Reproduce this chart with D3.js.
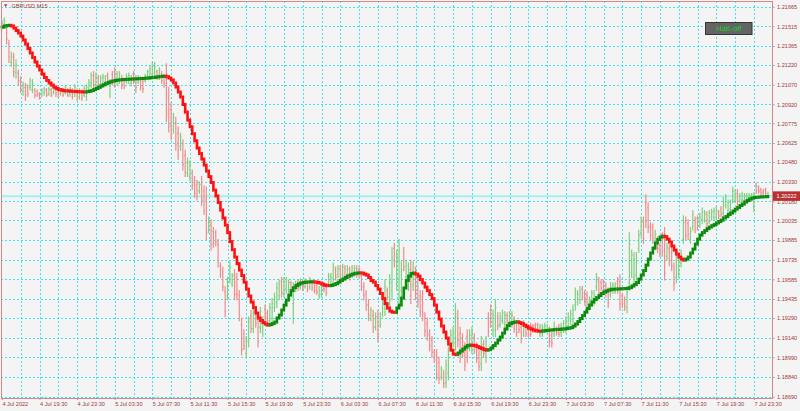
<!DOCTYPE html>
<html>
<head>
<meta charset="utf-8">
<script src="https://cdn.jsdelivr.net/npm/d3@7"></script>
<style>
  html, body { margin: 0; padding: 0; background: #f4f4f4; }
  svg { display: block; }
  text { font-family: "Liberation Sans", Arial, sans-serif; }
</style>
</head>
<body>
<svg id="chart" width="800" height="411"></svg>
<script>
/*global d3*/

// chart texts
var symbol = "GBPUSD,M15";
var buttonLabel = "HaK-off";

// price scale labels (right side)
var priceLabels = ["1.21665","1.21515","1.21365","1.21220","1.21070","1.20920","1.20775",
  "1.20625","1.20480","1.20330","1.20180","1.20035","1.19885","1.19735","1.19585",
  "1.19435","1.19290","1.19140","1.18990","1.18840","1.18690"];

// time labels, one every 16 bars (4 hours of M15)
var timeLabels = ["4 Jul 2022","4 Jul 19:30","4 Jul 23:30","5 Jul 03:30","5 Jul 07:30",
  "5 Jul 11:30","5 Jul 15:30","5 Jul 19:30","5 Jul 23:30","6 Jul 03:30","6 Jul 07:30",
  "6 Jul 11:30","6 Jul 15:30","6 Jul 19:30","6 Jul 23:30","7 Jul 03:30","7 Jul 07:30",
  "7 Jul 11:30","7 Jul 15:30","7 Jul 19:30","7 Jul 23:30"];
var barsPerLabel = 16;
var barsPerGrid = 8;

// OHLC of the M15 bars
var opens = [
1.2151,1.2152,1.2150,1.2138,1.2124,1.2128,1.2116,1.2116,1.2110,1.2102,
1.2105,1.2105,1.2105,1.2103,1.2103,1.2102,1.2100,1.2099,1.2101,1.2103,
1.2100,1.2103,1.2101,1.2104,1.2103,1.2100,1.2103,1.2101,1.2103,1.2100,
1.2103,1.2100,1.2102,1.2098,1.2101,1.2099,1.2098,1.2103,1.2108,1.2114,
1.2107,1.2112,1.2107,1.2108,1.2109,1.2114,1.2102,1.2115,1.2117,1.2110,
1.2111,1.2112,1.2110,1.2110,1.2110,1.2108,1.2115,1.2111,1.2109,1.2111,
1.2109,1.2110,1.2113,1.2114,1.2115,1.2116,1.2117,1.2113,1.2115,1.2113,
1.2112,1.2097,1.2088,1.2073,1.2078,1.2070,1.2060,1.2061,1.2053,1.2040,
1.2037,1.2040,1.2034,1.2031,1.2026,1.2031,1.2026,1.2020,1.1996,1.2000,
1.1995,1.1994,1.1985,1.1969,1.1965,1.1949,1.1946,1.1959,1.1955,1.1962,
1.1960,1.1946,1.1924,1.1917,1.1902,1.1911,1.1931,1.1921,1.1934,1.1928,
1.1922,1.1918,1.1936,1.1933,1.1927,1.1929,1.1937,1.1941,1.1946,1.1957,
1.1948,1.1951,1.1950,1.1956,1.1940,1.1951,1.1956,1.1953,1.1956,1.1953,
1.1955,1.1953,1.1956,1.1955,1.1954,1.1946,1.1947,1.1955,1.1953,1.1955,
1.1955,1.1959,1.1966,1.1962,1.1967,1.1962,1.1967,1.1962,1.1966,1.1962,
1.1963,1.1967,1.1966,1.1961,1.1953,1.1947,1.1939,1.1929,1.1931,1.1922,
1.1930,1.1924,1.1932,1.1936,1.1950,1.1940,1.1950,1.1982,1.1955,1.1947,
1.1950,1.1979,1.1960,1.1954,1.1966,1.1954,1.1963,1.1955,1.1946,1.1945,
1.1929,1.1925,1.1917,1.1912,1.1903,1.1900,1.1895,1.1884,1.1886,1.1880,
1.1887,1.1907,1.1910,1.1910,1.1929,1.1917,1.1914,1.1906,1.1915,1.1907,
1.1906,1.1914,1.1907,1.1901,1.1894,1.1909,1.1899,1.1929,1.1935,1.1919,
1.1920,1.1930,1.1924,1.1927,1.1925,1.1931,1.1926,1.1925,1.1928,1.1925,
1.1925,1.1922,1.1918,1.1922,1.1922,1.1923,1.1923,1.1923,1.1924,1.1917,
1.1917,1.1920,1.1919,1.1920,1.1916,1.1917,1.1921,1.1922,1.1918,1.1920,
1.1921,1.1923,1.1927,1.1928,1.1939,1.1941,1.1943,1.1951,1.1948,1.1946,
1.1939,1.1942,1.1941,1.1953,1.1957,1.1956,1.1957,1.1954,1.1949,1.1947,
1.1950,1.1949,1.1957,1.1957,1.1946,1.1943,1.1937,1.1956,1.1964,1.1960,
1.1962,1.1982,1.1994,1.2002,1.2017,1.2013,1.1999,1.1998,1.1984,1.1989,
1.1984,1.1990,1.1990,1.1976,1.1982,1.1979,1.1967,1.1960,1.1963,1.1971,
1.1989,1.2003,1.2001,1.1989,1.1999,1.2004,1.2005,1.2000,1.2004,1.2004,
1.2008,1.2003,1.2006,1.2006,1.2006,1.2010,1.2012,1.2009,1.2015,1.2011,
1.2012,1.2019,1.2019,1.2024,1.2018,1.2019,1.2019,1.2019,1.2020,1.2020,
1.2014,1.2030,1.2029,1.2027,1.2025,1.2027,1.2021];

var highs = [
1.2156,1.2158,1.2153,1.2141,1.2132,1.2131,1.2126,1.2118,1.2113,1.2109,
1.2108,1.2107,1.2112,1.2111,1.2104,1.2103,1.2101,1.2104,1.2105,1.2104,
1.2105,1.2104,1.2106,1.2105,1.2104,1.2104,1.2104,1.2106,1.2104,1.2105,
1.2104,1.2107,1.2104,1.2104,1.2103,1.2106,1.2107,1.2111,1.2116,1.2117,
1.2116,1.2114,1.2114,1.2115,1.2114,1.2116,1.2111,1.2117,1.2120,1.2117,
1.2117,1.2114,1.2112,1.2115,1.2116,1.2114,1.2117,1.2114,1.2114,1.2113,
1.2111,1.2115,1.2118,1.2121,1.2124,1.2124,1.2118,1.2120,1.2117,1.2115,
1.2123,1.2105,1.2093,1.2085,1.2082,1.2075,1.2070,1.2065,1.2057,1.2051,
1.2049,1.2042,1.2037,1.2034,1.2033,1.2037,1.2030,1.2029,1.2006,1.2004,
1.1998,1.1996,1.1989,1.1971,1.1968,1.1953,1.1960,1.1972,1.1963,1.1966,
1.1963,1.1950,1.1929,1.1920,1.1915,1.1930,1.1935,1.1937,1.1937,1.1933,
1.1937,1.1930,1.1939,1.1935,1.1940,1.1944,1.1948,1.1956,1.1958,1.1960,
1.1960,1.1960,1.1958,1.1957,1.1956,1.1957,1.1958,1.1959,1.1958,1.1959,
1.1957,1.1960,1.1958,1.1957,1.1956,1.1953,1.1954,1.1956,1.1955,1.1963,
1.1963,1.1971,1.1968,1.1969,1.1969,1.1970,1.1969,1.1969,1.1968,1.1969,
1.1969,1.1969,1.1968,1.1963,1.1956,1.1950,1.1943,1.1937,1.1935,1.1933,
1.1935,1.1933,1.1943,1.1958,1.1952,1.1962,1.1983,1.1986,1.1981,1.1989,
1.1972,1.1983,1.1973,1.1971,1.1973,1.1972,1.1968,1.1960,1.1950,1.1950,
1.1933,1.1929,1.1920,1.1915,1.1905,1.1905,1.1899,1.1892,1.1889,1.1897,
1.1907,1.1920,1.1922,1.1940,1.1935,1.1922,1.1917,1.1910,1.1920,1.1920,
1.1922,1.1917,1.1910,1.1905,1.1915,1.1912,1.1915,1.1933,1.1939,1.1935,
1.1943,1.1933,1.1933,1.1935,1.1934,1.1933,1.1934,1.1934,1.1930,1.1927,
1.1927,1.1925,1.1927,1.1924,1.1924,1.1925,1.1924,1.1925,1.1925,1.1924,
1.1924,1.1925,1.1924,1.1922,1.1918,1.1926,1.1922,1.1924,1.1925,1.1927,
1.1930,1.1933,1.1935,1.1939,1.1952,1.1950,1.1953,1.1953,1.1950,1.1949,
1.1945,1.1950,1.1950,1.1963,1.1960,1.1958,1.1958,1.1956,1.1952,1.1956,
1.1956,1.1956,1.1960,1.1962,1.1948,1.1945,1.1953,1.1994,1.1981,1.1979,
1.1979,1.1996,1.2006,1.2006,1.2023,1.2017,1.2002,1.2001,1.1996,1.1991,
1.1986,1.1994,1.1998,1.1986,1.1985,1.1983,1.1971,1.1979,1.1975,1.1981,
1.2007,1.2006,1.2004,1.1998,1.2011,1.2006,1.2007,1.2009,1.2013,1.2011,
1.2010,1.2011,1.2012,1.2013,1.2014,1.2011,1.2014,1.2021,1.2023,1.2019,
1.2019,1.2029,1.2027,1.2027,1.2024,1.2025,1.2024,1.2024,1.2024,1.2024,
1.2025,1.2032,1.2030,1.2028,1.2027,1.2028,1.2025];

var lows = [
1.2149,1.2150,1.2138,1.2124,1.2121,1.2113,1.2112,1.2107,1.2101,1.2099,
1.2095,1.2098,1.2103,1.2101,1.2097,1.2098,1.2096,1.2098,1.2099,1.2098,
1.2099,1.2098,1.2100,1.2098,1.2097,1.2099,1.2098,1.2100,1.2098,1.2098,
1.2096,1.2098,1.2095,1.2096,1.2095,1.2098,1.2095,1.2101,1.2105,1.2103,
1.2104,1.2104,1.2105,1.2106,1.2107,1.2108,1.2097,1.2107,1.2105,1.2107,
1.2108,1.2104,1.2104,1.2108,1.2108,1.2106,1.2108,1.2101,1.2108,1.2103,
1.2101,1.2109,1.2111,1.2111,1.2112,1.2113,1.2111,1.2111,1.2108,1.2105,
1.2079,1.2071,1.2065,1.2070,1.2057,1.2050,1.2057,1.2042,1.2037,1.2037,
1.2034,1.2027,1.2021,1.2019,1.2024,1.2015,1.2008,1.1989,1.1994,1.1981,
1.1983,1.1984,1.1968,1.1960,1.1950,1.1930,1.1943,1.1956,1.1953,1.1943,
1.1943,1.1927,1.1901,1.1905,1.1899,1.1907,1.1918,1.1918,1.1922,1.1907,
1.1918,1.1915,1.1927,1.1924,1.1924,1.1925,1.1934,1.1937,1.1943,1.1945,
1.1945,1.1948,1.1948,1.1950,1.1925,1.1949,1.1950,1.1951,1.1950,1.1952,
1.1949,1.1951,1.1950,1.1948,1.1947,1.1944,1.1945,1.1949,1.1946,1.1953,
1.1953,1.1956,1.1958,1.1960,1.1958,1.1960,1.1959,1.1960,1.1958,1.1960,
1.1961,1.1960,1.1960,1.1950,1.1943,1.1935,1.1927,1.1927,1.1918,1.1920,
1.1911,1.1922,1.1930,1.1931,1.1943,1.1935,1.1943,1.1968,1.1950,1.1937,
1.1943,1.1965,1.1956,1.1950,1.1940,1.1950,1.1943,1.1937,1.1930,1.1927,
1.1915,1.1912,1.1904,1.1899,1.1895,1.1882,1.1879,1.1882,1.1876,1.1876,
1.1882,1.1904,1.1907,1.1904,1.1907,1.1895,1.1899,1.1889,1.1895,1.1904,
1.1902,1.1902,1.1895,1.1889,1.1889,1.1899,1.1895,1.1915,1.1922,1.1915,
1.1915,1.1920,1.1922,1.1925,1.1922,1.1923,1.1924,1.1922,1.1918,1.1915,
1.1918,1.1910,1.1915,1.1915,1.1915,1.1915,1.1918,1.1918,1.1918,1.1915,
1.1915,1.1918,1.1918,1.1907,1.1907,1.1915,1.1916,1.1915,1.1915,1.1918,
1.1918,1.1920,1.1924,1.1925,1.1935,1.1939,1.1940,1.1943,1.1939,1.1935,
1.1937,1.1940,1.1939,1.1950,1.1945,1.1950,1.1950,1.1945,1.1937,1.1945,
1.1948,1.1948,1.1948,1.1935,1.1937,1.1935,1.1933,1.1950,1.1960,1.1956,
1.1958,1.1979,1.1991,1.1986,1.1998,1.1994,1.1989,1.1986,1.1981,1.1979,
1.1976,1.1976,1.1958,1.1973,1.1969,1.1965,1.1950,1.1956,1.1960,1.1968,
1.1986,1.1989,1.1989,1.1986,1.1996,1.1994,1.1996,1.1998,1.2001,1.2002,
1.1998,1.2001,1.2004,1.2004,1.2004,1.2005,1.2006,1.2006,1.2013,1.2009,
1.2009,1.2017,1.2017,1.2015,1.2017,1.2017,1.2017,1.2017,1.2019,1.2018,
1.2010,1.2024,1.2024,1.2022,1.2021,1.2023,1.2021];

var closes = [
1.2154,1.2156,1.2142,1.2128,1.2129,1.2117,1.2122,1.2110,1.2104,1.2107,
1.2099,1.2100,1.2110,1.2108,1.2099,1.2099,1.2097,1.2103,1.2104,1.2099,
1.2104,1.2099,1.2105,1.2100,1.2098,1.2103,1.2099,1.2105,1.2099,1.2104,
1.2098,1.2105,1.2097,1.2102,1.2097,1.2104,1.2105,1.2109,1.2114,1.2107,
1.2113,1.2107,1.2112,1.2113,1.2113,1.2110,1.2109,1.2110,1.2109,1.2115,
1.2115,1.2107,1.2106,1.2113,1.2114,1.2112,1.2111,1.2105,1.2113,1.2106,
1.2104,1.2114,1.2117,1.2119,1.2121,1.2121,1.2113,1.2118,1.2110,1.2108,
1.2085,1.2075,1.2069,1.2082,1.2061,1.2053,1.2067,1.2046,1.2040,1.2048,
1.2046,1.2030,1.2024,1.2022,1.2031,1.2019,1.2011,1.1994,1.2003,1.1985,
1.1986,1.1987,1.1971,1.1962,1.1953,1.1934,1.1956,1.1968,1.1961,1.1947,
1.1947,1.1931,1.1905,1.1908,1.1912,1.1926,1.1921,1.1933,1.1925,1.1911,
1.1934,1.1927,1.1930,1.1927,1.1937,1.1940,1.1945,1.1952,1.1955,1.1948,
1.1957,1.1957,1.1956,1.1952,1.1953,1.1955,1.1952,1.1957,1.1952,1.1957,
1.1951,1.1958,1.1952,1.1950,1.1949,1.1950,1.1952,1.1951,1.1948,1.1961,
1.1960,1.1968,1.1960,1.1967,1.1960,1.1968,1.1961,1.1967,1.1960,1.1967,
1.1967,1.1962,1.1962,1.1953,1.1946,1.1939,1.1931,1.1935,1.1922,1.1930,
1.1915,1.1930,1.1940,1.1953,1.1945,1.1956,1.1975,1.1972,1.1976,1.1980,
1.1966,1.1968,1.1969,1.1966,1.1946,1.1967,1.1948,1.1942,1.1934,1.1932,
1.1919,1.1916,1.1908,1.1903,1.1897,1.1886,1.1883,1.1890,1.1879,1.1893,
1.1901,1.1916,1.1918,1.1932,1.1912,1.1900,1.1903,1.1893,1.1900,1.1916,
1.1918,1.1905,1.1898,1.1892,1.1909,1.1902,1.1911,1.1919,1.1926,1.1931,
1.1937,1.1923,1.1930,1.1933,1.1931,1.1926,1.1932,1.1931,1.1921,1.1918,
1.1920,1.1913,1.1924,1.1917,1.1917,1.1917,1.1920,1.1920,1.1919,1.1922,
1.1922,1.1923,1.1922,1.1911,1.1910,1.1923,1.1918,1.1917,1.1922,1.1925,
1.1927,1.1930,1.1932,1.1935,1.1948,1.1947,1.1950,1.1945,1.1942,1.1939,
1.1943,1.1948,1.1947,1.1960,1.1948,1.1952,1.1951,1.1948,1.1941,1.1953,
1.1954,1.1955,1.1951,1.1940,1.1940,1.1938,1.1949,1.1985,1.1977,1.1974,
1.1975,1.1992,1.2002,1.1990,1.2003,1.1998,1.1992,1.1990,1.1993,1.1982,
1.1979,1.1980,1.1963,1.1983,1.1973,1.1969,1.1955,1.1973,1.1972,1.1978,
1.2002,1.1992,1.1993,1.1995,1.2008,1.1997,1.1999,1.2006,1.2010,1.2009,
1.2001,1.2009,1.2010,1.2011,1.2011,1.2007,1.2008,1.2017,1.2020,1.2017,
1.2017,1.2026,1.2024,1.2018,1.2022,1.2023,1.2022,1.2022,1.2023,1.2023,
1.2022,1.2026,1.2026,1.2024,1.2022,1.2024,1.20222];

// smoothed moving average drawn over the bars (red = falling, green = rising)
var hma = [
1.21510,1.21518,1.21521,1.21523,1.21518,1.21502,1.21483,1.21464,1.21441,1.21411,
1.21380,1.21346,1.21312,1.21277,1.21243,1.21212,1.21182,1.21151,1.21125,1.21102,
1.21083,1.21067,1.21052,1.21041,1.21033,1.21029,1.21025,1.21023,1.21022,1.21020,
1.21019,1.21018,1.21017,1.21016,1.21015,1.21014,1.21017,1.21020,1.21025,1.21033,
1.21041,1.21050,1.21060,1.21069,1.21078,1.21086,1.21092,1.21098,1.21102,1.21105,
1.21107,1.21109,1.21110,1.21111,1.21112,1.21113,1.21114,1.21115,1.21116,1.21117,
1.21118,1.21120,1.21121,1.21123,1.21125,1.21127,1.21130,1.21132,1.21134,1.21135,
1.21131,1.21121,1.21106,1.21083,1.21052,1.21014,1.20976,1.20919,1.20861,1.20800,
1.20749,1.20696,1.20642,1.20587,1.20545,1.20503,1.20457,1.20411,1.20369,1.20324,
1.20266,1.20221,1.20171,1.20114,1.20053,1.19999,1.19942,1.19873,1.19812,1.19755,
1.19705,1.19656,1.19614,1.19564,1.19511,1.19458,1.19412,1.19370,1.19328,1.19290,
1.19271,1.19255,1.19244,1.19236,1.19240,1.19248,1.19259,1.19290,1.19313,1.19351,
1.19389,1.19427,1.19465,1.19499,1.19522,1.19538,1.19549,1.19557,1.19561,1.19564,
1.19565,1.19566,1.19567,1.19565,1.19562,1.19557,1.19549,1.19541,1.19538,1.19537,
1.19539,1.19545,1.19553,1.19564,1.19576,1.19587,1.19599,1.19610,1.19618,1.19625,
1.19631,1.19633,1.19635,1.19633,1.19625,1.19618,1.19599,1.19576,1.19564,1.19538,
1.19511,1.19477,1.19438,1.19400,1.19366,1.19343,1.19335,1.19333,1.19366,1.19389,
1.19442,1.19519,1.19576,1.19610,1.19629,1.19633,1.19625,1.19610,1.19583,1.19557,
1.19526,1.19499,1.19469,1.19438,1.19389,1.19335,1.19282,1.19229,1.19183,1.19137,
1.19091,1.19045,1.19015,1.19011,1.19023,1.19038,1.19053,1.19069,1.19080,1.19084,
1.19082,1.19080,1.19072,1.19065,1.19057,1.19049,1.19045,1.19049,1.19061,1.19080,
1.19099,1.19122,1.19145,1.19175,1.19206,1.19232,1.19248,1.19255,1.19259,1.19261,
1.19255,1.19248,1.19236,1.19225,1.19213,1.19206,1.19198,1.19194,1.19190,1.19189,
1.19192,1.19194,1.19196,1.19198,1.19200,1.19202,1.19203,1.19204,1.19206,1.19207,
1.19210,1.19213,1.19217,1.19229,1.19244,1.19263,1.19286,1.19309,1.19335,1.19362,
1.19389,1.19412,1.19431,1.19446,1.19461,1.19477,1.19488,1.19496,1.19503,1.19509,
1.19510,1.19511,1.19512,1.19513,1.19514,1.19515,1.19516,1.19522,1.19534,1.19545,
1.19561,1.19587,1.19618,1.19652,1.19694,1.19740,1.19786,1.19824,1.19862,1.19889,
1.19908,1.19915,1.19911,1.19892,1.19870,1.19839,1.19808,1.19778,1.19755,1.19740,
1.19732,1.19740,1.19755,1.19786,1.19816,1.19854,1.19892,1.19923,1.19942,1.19957,
1.19972,1.19984,1.19995,1.20003,1.20015,1.20026,1.20037,1.20053,1.20064,1.20080,
1.20091,1.20106,1.20121,1.20133,1.20148,1.20159,1.20175,1.20186,1.20198,1.20205,
1.20209,1.20211,1.20213,1.20214,1.20215,1.20216,1.20217];

var width = 800, height = 411;
var plot = {left: 1, top: 1, right: 772.5, bottom: 398};
var textColor = "#a33b3b";

var svg = d3.select("#chart");

// bar index -> x, price -> y
var x = d3.scaleLinear()
    .domain([0, 328])
    .range([1.9, 772.7]);

var y = d3.scaleLinear()
    .domain([1.18690, 1.21665])
    .range([396.7, 6.7]);

svg.append("rect")
    .attr("width", width)
    .attr("height", height)
    .attr("fill", "#f4f4f4");

// grid
var grid = svg.append("g")
    .attr("stroke", "#3fe3ef")
    .attr("stroke-width", 1)
    .attr("stroke-dasharray", "2,2");

grid.selectAll(".hgrid")
    .data(priceLabels)
    .join("line")
    .attr("class", "hgrid")
    .attr("x1", plot.left)
    .attr("x2", plot.right)
    .attr("y1", d => Math.round(y(+d)) + 0.5)
    .attr("y2", d => Math.round(y(+d)) + 0.5);

grid.selectAll(".vgrid")
    .data(d3.range(barsPerGrid, 328, barsPerGrid))
    .join("line")
    .attr("class", "vgrid")
    .attr("x1", d => Math.round(x(d)) + 0.5)
    .attr("x2", d => Math.round(x(d)) + 0.5)
    .attr("y1", plot.top)
    .attr("y2", plot.bottom);

// current price line
var lastPrice = closes[closes.length - 1];
svg.append("line")
    .attr("x1", plot.left)
    .attr("x2", plot.right)
    .attr("y1", y(lastPrice) + 0.5)
    .attr("y2", y(lastPrice) + 0.5)
    .attr("stroke", "#a3eff2")
    .attr("stroke-width", 2);

// bars (high-low line with open tick left, close tick right)
var upColor = "#7fd17f", downColor = "#f08c8c";
var bars = svg.append("g")
    .selectAll("g")
    .data(d3.range(closes.length))
    .join("g")
    .attr("stroke", i => closes[i] >= opens[i] ? upColor : downColor)
    .attr("stroke-width", 1.2);

bars.append("line")
    .attr("x1", i => x(i))
    .attr("x2", i => x(i))
    .attr("y1", i => y(highs[i]) - 0.5)
    .attr("y2", i => y(lows[i]) + 0.5);

bars.append("line")
    .attr("x1", i => x(i) - 1)
    .attr("x2", i => x(i))
    .attr("y1", i => y(opens[i]))
    .attr("y2", i => y(opens[i]));

bars.append("line")
    .attr("x1", i => x(i))
    .attr("x2", i => x(i) + 1)
    .attr("y1", i => y(closes[i]))
    .attr("y2", i => y(closes[i]));

// moving average, drawn bar by bar as thick blocks
var rising = [];
hma.forEach(function(v, i) {
    if (i === 0) rising.push(hma[1] > hma[0]);
    else if (v > hma[i - 1]) rising.push(true);
    else if (v < hma[i - 1]) rising.push(false);
    else rising.push(rising[i - 1]);
});

svg.append("g")
    .selectAll("rect")
    .data(d3.range(hma.length))
    .join("rect")
    .attr("x", i => x(i) - 1.3)
    .attr("width", 2.6)
    .attr("y", function(i) {
        var a = y(hma[i]), b = y(hma[Math.max(0, i - 1)]);
        return Math.min(a, b) - 1.5;
    })
    .attr("height", function(i) {
        var a = y(hma[i]), b = y(hma[Math.max(0, i - 1)]);
        return Math.abs(a - b) + 3;
    })
    .attr("fill", i => rising[i] ? "#0a8a0a" : "#ff1010");

// frame
svg.append("rect")
    .attr("x", plot.left + 0.5)
    .attr("y", plot.top + 0.5)
    .attr("width", plot.right - plot.left - 0.5)
    .attr("height", plot.bottom - plot.top)
    .attr("fill", "none")
    .attr("stroke", "#cf8a8a")
    .attr("stroke-width", 1);

// price axis
var yAxis = svg.append("g")
    .attr("transform", `translate(${plot.right},0)`)
    .call(d3.axisRight(y)
        .tickValues(priceLabels.map(Number))
        .tickFormat((d, i) => priceLabels[i])
        .tickSize(2)
        .tickPadding(2.5));
yAxis.select(".domain").remove();
yAxis.selectAll("line").attr("stroke", "#cf8a8a");
yAxis.selectAll("text")
    .attr("fill", textColor)
    .style("font-size", "5.6px")
    .style("font-family", "'Liberation Sans', Arial, sans-serif");

// time axis
var xAxis = svg.append("g")
    .attr("transform", `translate(0,${plot.bottom})`)
    .call(d3.axisBottom(x)
        .tickValues(timeLabels.map((d, i) => i * barsPerLabel))
        .tickFormat((d, i) => timeLabels[i])
        .tickSize(2)
        .tickPadding(2.5));
xAxis.select(".domain").remove();
xAxis.selectAll("line").attr("stroke", "#cf8a8a");
xAxis.selectAll("text")
    .attr("text-anchor", "start")
    .attr("fill", textColor)
    .style("font-size", "5.6px")
    .style("font-family", "'Liberation Sans', Arial, sans-serif");

// last price tag
svg.append("rect")
    .attr("x", plot.right + 0.5)
    .attr("y", y(lastPrice) - 4.5)
    .attr("width", 27)
    .attr("height", 9.5)
    .attr("fill", "#b83030");
svg.append("text")
    .attr("x", plot.right + 4)
    .attr("y", y(lastPrice) + 0.5)
    .attr("dy", "0.35em")
    .attr("fill", "#ffffff")
    .style("font-size", "5.6px")
    .text(d3.format(".5f")(lastPrice));

// symbol title
svg.append("path")
    .attr("d", d3.line()([[4, 4.3], [7.4, 4.3], [5.7, 6.9]]) + "Z")
    .attr("fill", "#c03030");
svg.append("text")
    .attr("x", 11.5)
    .attr("y", 8.2)
    .attr("fill", textColor)
    .style("font-size", "5.6px")
    .text(symbol);

// indicator button
svg.append("rect")
    .attr("x", 705.5)
    .attr("y", 22.5)
    .attr("width", 46.5)
    .attr("height", 12)
    .attr("fill", "#646464")
    .attr("stroke", "#353535")
    .attr("stroke-width", 1);
svg.append("text")
    .attr("x", 728.8)
    .attr("y", 28.7)
    .attr("dy", "0.35em")
    .attr("text-anchor", "middle")
    .attr("fill", "#1ed21e")
    .style("font-size", "7.4px")
    .text(buttonLabel);
</script>
</body>
</html>
